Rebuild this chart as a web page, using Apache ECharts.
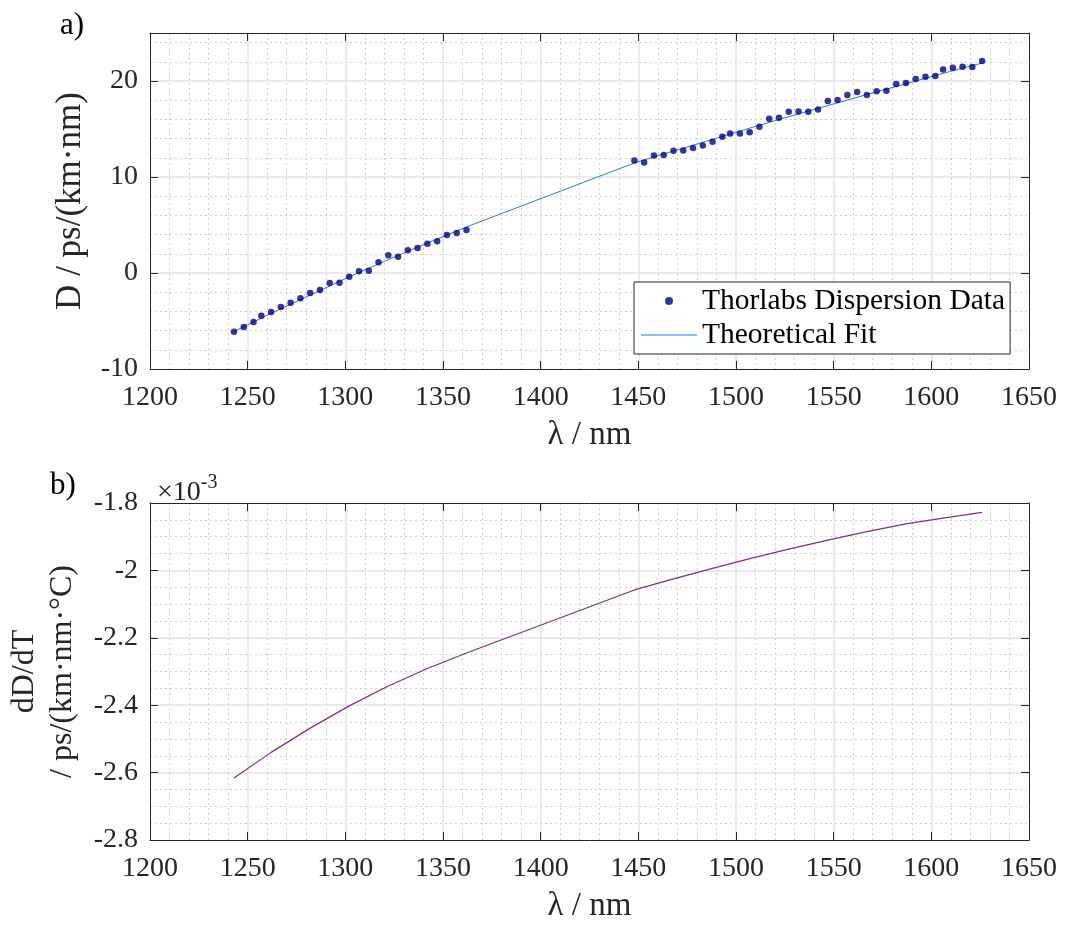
<!DOCTYPE html>
<html>
<head>
<meta charset="utf-8">
<script src="https://cdn.jsdelivr.net/npm/echarts@6.0.0/dist/echarts.min.js"></script>
<style>
  html, body { margin: 0; padding: 0; background: #fff; }
  #chart { width: 1065px; height: 929px; }
</style>
</head>
<body>
<div id="chart"></div>
<script>
// measured Thorlabs points, wavelength in nm and D in ps/(km nm)
const dataWavelengths = [
  1243, 1248, 1253, 1257, 1262, 1267, 1272, 1277, 1282, 1287, 1292, 1297, 1302,
  1307, 1312, 1317, 1322, 1327, 1332, 1337, 1342, 1347, 1352, 1357, 1362,
  1448, 1453, 1458, 1463, 1468, 1473, 1478, 1483, 1488, 1493, 1497, 1502, 1507,
  1512, 1517, 1522, 1527, 1532, 1537, 1542, 1547, 1552, 1557, 1562, 1567, 1572,
  1577, 1582, 1587, 1592, 1597, 1602, 1606, 1611, 1616, 1621, 1626
];
const dataDispersion = [
  -6.11, -5.63, -5.11, -4.45, -4.07, -3.55, -3.10, -2.64, -2.09, -1.77, -1.04, -1.01, -0.39,
  0.17, 0.24, 1.11, 1.84, 1.70, 2.36, 2.60, 3.05, 3.30, 3.96, 4.17, 4.48,
  11.73, 11.52, 12.25, 12.29, 12.74, 12.77, 13.02, 13.29, 13.68, 14.20, 14.54, 14.54, 14.65,
  15.24, 16.07, 16.18, 16.80, 16.83, 16.80, 17.04, 17.92, 18.02, 18.54, 18.85, 18.54, 18.92,
  18.99, 19.69, 19.79, 20.21, 20.45, 20.52, 21.21, 21.39, 21.49, 21.46, 22.08
];

// fit curve (same wavelengths for both panels)
const fitWavelengths = [1243, 1262, 1282, 1302, 1322, 1342, 1362, 1448, 1468, 1488, 1507, 1527, 1547, 1567, 1587, 1606, 1626];
const fitDispersion = [-6.1, -4.2, -2.3, -0.4, 1.4, 3.12, 4.8, 11.46, 12.7, 13.92, 15.09, 16.28, 17.44, 18.59, 19.71, 20.8, 21.87];
// dD/dT in units of 1e-3 ps/(km nm C)
const fitSlope = [-2.616, -2.540, -2.468, -2.402, -2.343, -2.291, -2.245, -2.058, -2.025, -1.994, -1.965, -1.937, -1.910, -1.885, -1.862, -1.845, -1.828];

const xTicks = { min: 1200, max: 1650, interval: 50 };
const topYTicks = { min: -10, max: 25, interval: 10 };
const bottomYTicks = { min: -2.8, max: -1.8, interval: 0.2 };

const font = 'Liberation Serif';
const ink = '#262626';

function zip(xs, ys) {
  return xs.map((x, i) => [x, ys[i]]);
}

function plain(v) {
  return String(+Number(v).toFixed(4));
}

function mainX(gridIndex, name) {
  return {
    gridIndex: gridIndex,
    type: 'value',
    min: xTicks.min,
    max: xTicks.max,
    interval: xTicks.interval,
    name: name,
    nameLocation: 'middle',
    nameGap: 50,
    nameTextStyle: { fontFamily: font, fontSize: 33, color: ink },
    axisLine: { show: true, onZero: false, lineStyle: { color: ink, width: 1 } },
    axisTick: { show: true, inside: true, length: 8, lineStyle: { color: ink } },
    axisLabel: { fontFamily: font, fontSize: 28, color: ink, margin: 15, formatter: plain },
    splitLine: { show: true, showMinLine: false, showMaxLine: false, lineStyle: { color: '#e3e3e3', width: 1.5 } },
    minorTick: { show: false, splitNumber: 5 },
    minorSplitLine: { show: true, lineStyle: { color: '#cfcfcf', type: [2, 3], width: 1 } }
  };
}

function frameX(gridIndex) {
  return {
    gridIndex: gridIndex,
    type: 'value',
    position: 'top',
    min: xTicks.min,
    max: xTicks.max,
    interval: xTicks.interval,
    axisLine: { show: true, onZero: false, lineStyle: { color: ink, width: 1 } },
    axisTick: { show: true, inside: true, length: 8, lineStyle: { color: ink } },
    axisLabel: { show: false },
    splitLine: { show: false }
  };
}

function mainY(gridIndex, ticks, minorCount, name, gap, size, labelOpts) {
  return {
    gridIndex: gridIndex,
    type: 'value',
    min: ticks.min,
    max: ticks.max,
    interval: ticks.interval,
    name: name,
    nameLocation: 'middle',
    nameRotate: 90,
    nameGap: gap,
    nameTextStyle: { fontFamily: font, fontSize: size, color: ink, lineHeight: 38, align: 'center' },
    axisLine: { show: true, onZero: false, lineStyle: { color: ink, width: 1 } },
    axisTick: { show: true, inside: true, length: 8, lineStyle: { color: ink } },
    axisLabel: Object.assign({ fontFamily: font, fontSize: 28, color: ink, margin: 12, formatter: plain }, labelOpts),
    splitLine: { show: true, showMinLine: false, showMaxLine: false, lineStyle: { color: '#e3e3e3', width: 1.5 } },
    minorTick: { show: false, splitNumber: minorCount },
    minorSplitLine: { show: true, lineStyle: { color: '#cfcfcf', type: [2, 3], width: 1 } }
  };
}

function frameY(gridIndex, ticks) {
  return {
    gridIndex: gridIndex,
    type: 'value',
    position: 'right',
    min: ticks.min,
    max: ticks.max,
    interval: ticks.interval,
    axisLine: { show: true, onZero: false, lineStyle: { color: ink, width: 1 } },
    axisTick: { show: true, inside: true, length: 8, lineStyle: { color: ink } },
    axisLabel: { show: false },
    splitLine: { show: false }
  };
}

const chart = echarts.init(document.getElementById('chart'), null, { renderer: 'canvas' });

chart.setOption({
  backgroundColor: '#fff',
  animation: false,
  title: [
    { text: 'a)', left: 55, top: 5, textStyle: { fontFamily: font, fontSize: 31, fontWeight: 'normal', color: '#000' } },
    { text: 'b)', left: 45, top: 465, textStyle: { fontFamily: font, fontSize: 31, fontWeight: 'normal', color: '#000' } },
    {
      text: '{m|×10}{e|-3}',
      left: 152,
      top: 468,
      textStyle: {
        fontWeight: 'normal',
        rich: {
          m: { fontFamily: font, fontSize: 28, fontWeight: 'normal', color: ink, verticalAlign: 'bottom' },
          e: { fontFamily: font, fontSize: 20, fontWeight: 'normal', color: ink, padding: [0, 0, 14, 0] }
        }
      }
    }
  ],
  grid: [
    { left: 150, top: 33, right: 36, height: 336, outerBoundsMode: 'none' },
    { left: 150, top: 503, right: 36, height: 337, outerBoundsMode: 'none' }
  ],
  legend: {
    left: 634,
    top: 282,
    orient: 'vertical',
    backgroundColor: '#fff',
    borderColor: ink,
    borderWidth: 1,
    padding: [4, 5, 4, 7],
    itemWidth: 56,
    itemHeight: 8,
    itemGap: 4,
    selectedMode: false,
    textStyle: { fontFamily: font, fontSize: 29.5, color: '#000' },
    data: [
      { name: 'Thorlabs Dispersion Data', icon: 'circle' },
      { name: 'Theoretical Fit', icon: 'path://M0,0H56V1.2H0Z' }
    ]
  },
  xAxis: [
    mainX(0, 'λ / nm'),
    frameX(0),
    mainX(1, 'λ / nm'),
    frameX(1)
  ],
  yAxis: [
    mainY(0, topYTicks, 5, 'D / ps/(km·nm)', 58, 35, { showMaxLabel: false }),
    frameY(0, topYTicks),
    mainY(1, bottomYTicks, 4, 'dD/dT\n/ ps/(km·nm·°C)', 68, 32, {}),
    frameY(1, bottomYTicks)
  ],
  series: [
    {
      name: 'Theoretical Fit',
      type: 'line',
      xAxisIndex: 0,
      yAxisIndex: 0,
      data: zip(fitWavelengths, fitDispersion),
      symbol: 'none',
      lineStyle: { color: '#1f78ff', width: 1 },
      itemStyle: { color: '#1f78ff' },
      z: 3
    },
    {
      name: 'Thorlabs Dispersion Data',
      type: 'scatter',
      xAxisIndex: 0,
      yAxisIndex: 0,
      data: zip(dataWavelengths, dataDispersion),
      symbol: 'circle',
      symbolSize: 6.5,
      itemStyle: { color: '#00008b' },
      z: 4
    },
    {
      name: 'dD/dT',
      type: 'line',
      xAxisIndex: 2,
      yAxisIndex: 2,
      data: zip(fitWavelengths, fitSlope),
      symbol: 'none',
      lineStyle: { color: '#862a8e', width: 1.2 },
      z: 3
    }
  ]
});
</script>
</body>
</html>
